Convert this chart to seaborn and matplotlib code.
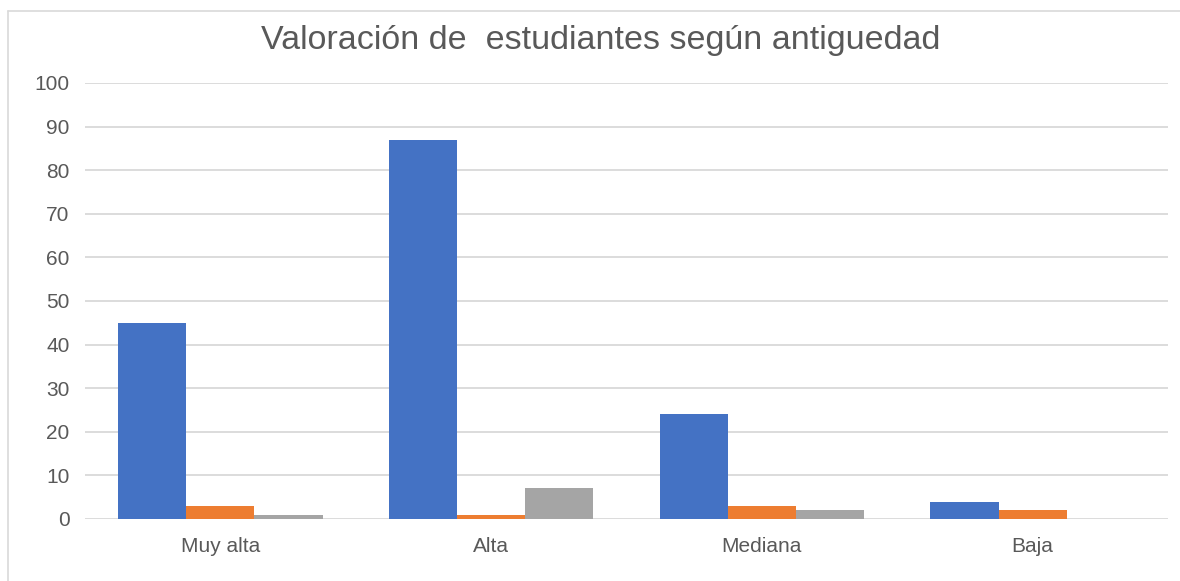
import matplotlib
matplotlib.use("Agg")
import matplotlib.pyplot as plt
import seaborn as sns
import pandas as pd
from matplotlib.lines import Line2D

categories = ["Muy alta", "Alta", "Mediana", "Baja"]
series_names = ["Serie 1", "Serie 2", "Serie 3"]
serie_1 = [45, 87, 24, 4]
serie_2 = [3, 1, 3, 2]
serie_3 = [1, 7, 2, 0]
y_ticks = [0, 10, 20, 30, 40, 50, 60, 70, 80, 90, 100]
palette = ["#4472C4", "#ED7D31", "#A5A5A5"]

df = pd.DataFrame({
    "categoria": categories * 3,
    "serie": [s for s in series_names for _ in categories],
    "valor": serie_1 + serie_2 + serie_3,
})

sns.set_theme(style="white")
plt.rcParams["font.family"] = ["Liberation Sans", "DejaVu Sans"]

W, H = 1180, 581
fig = plt.figure(figsize=(W / 100, H / 100), dpi=100)
fig.patch.set_facecolor("white")

# chart-area border: only the left and top edges fall inside the canvas
border = dict(transform=fig.transFigure, color="#D9D9D9", linewidth=1.2)
fig.lines.append(Line2D([8 / W, 1.0], [1 - 11 / H, 1 - 11 / H], **border))
fig.lines.append(Line2D([8 / W, 8 / W], [0.0, 1 - 11 / H], **border))

ax = fig.add_axes([85 / W, 1 - 519 / H, (1168 - 85) / W, (519 - 83) / H])
sns.barplot(data=df, x="categoria", y="valor", hue="serie", order=categories,
            hue_order=series_names, palette=palette, width=0.755,
            saturation=1, legend=False, ax=ax, linewidth=0)

ax.set_xlim(-0.5, 3.5)
ax.set_ylim(0, 100)
ax.set_yticks(y_ticks)
ax.set_yticklabels([str(v) for v in y_ticks])
ax.grid(axis="y", color="#D9D9D9", linewidth=1.3)
ax.set_axisbelow(True)
for side in ["top", "right", "left", "bottom"]:
    ax.spines[side].set_visible(False)
ax.tick_params(axis="both", length=0, labelsize=15, labelcolor="#595959")
ax.tick_params(axis="y", pad=11)
ax.tick_params(axis="x", pad=13)
ax.set_xlabel("")
ax.set_ylabel("")

fig.text(601 / W, 1 - 49 / H, "Valoración de  estudiantes según antiguedad",
         ha="center", va="baseline", fontsize=24.5, color="#595959")

fig.savefig("out.png", dpi=100, facecolor="white")
